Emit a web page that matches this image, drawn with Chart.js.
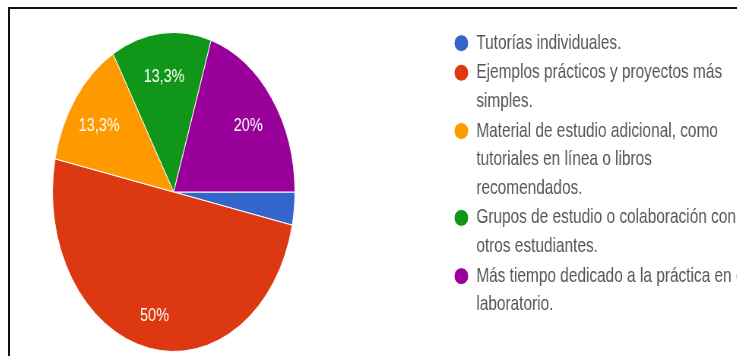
<!DOCTYPE html>
<html>
<head>
<meta charset="utf-8">
<script src="https://cdn.jsdelivr.net/npm/chart.js@4/dist/chart.umd.min.js"></script>
<style>
  html, body { margin: 0; padding: 0; background: #fff; overflow: hidden; }
  body { width: 737px; height: 356px; position: relative; }
  /* the source picture is squeezed sideways, so the chart is drawn wide and scaled */
  .wrap { position: absolute; left: -106px; top: 0; transform: scaleX(0.76); transform-origin: 0 0; }
  .frame { position: absolute; left: 8px; top: 7px; width: 740px; height: 360px;
           border-left: 2px solid #111; border-top: 2px solid #111; pointer-events: none; }
</style>
</head>
<body>
<div class="wrap"><canvas id="pie" width="1116" height="356"></canvas></div>
<div class="frame"></div>
<script>
const categories = [
  ["Tutorías individuales."],
  ["Ejemplos prácticos y proyectos más", "simples."],
  ["Material de estudio adicional, como", "tutoriales en línea o libros", "recomendados."],
  ["Grupos de estudio o colaboración con", "otros estudiantes."],
  ["Más tiempo dedicado a la práctica en el", "laboratorio."]
];
const responses = [1, 15, 4, 4, 6];
const colors = ["#3366cc", "#dc3912", "#ff9900", "#109618", "#990099"];

const total = responses.reduce((a, b) => a + b, 0);

// percentage text inside each slice, google forms style
const sliceLabels = {
    id: "sliceLabels",
    afterDatasetsDraw(chart) {
        const ctx = chart.ctx;
        const meta = chart.getDatasetMeta(0);
        ctx.save();
        ctx.font = "19px 'Liberation Sans', Arial, sans-serif";
        ctx.fillStyle = "#ffffff";
        ctx.textAlign = "center";
        ctx.textBaseline = "middle";
        meta.data.forEach((arc, i) => {
            const pct = responses[i] / total * 100;
            if (pct < 5) return;
            const {x, y, startAngle, endAngle, outerRadius} = arc.getProps(["x", "y", "startAngle", "endAngle", "outerRadius"], true);
            const mid = (startAngle + endAngle) / 2;
            const r = outerRadius * 0.76;
            const txt = (Math.round(pct * 10) / 10).toString().replace(".", ",") + "%";
            ctx.fillText(txt, x + Math.cos(mid) * r, y + Math.sin(mid) * r + 5);
        });
        ctx.restore();
    }
};

new Chart(document.getElementById("pie"), {
    type: "pie",
    data: {
        labels: categories,
        datasets: [{
            data: responses,
            backgroundColor: colors,
            borderColor: "#ffffff",
            borderWidth: 1
        }]
    },
    options: {
        responsive: false,
        animation: false,
        devicePixelRatio: 1,
        rotation: 90,
        layout: { padding: { top: 32, bottom: 4, left: 0, right: 0 } },
        plugins: {
            tooltip: { enabled: false },
            legend: {
                position: "right",
                align: "start",
                maxWidth: 380,
                labels: {
                    usePointStyle: true,
                    pointStyle: "circle",
                    pointStyleWidth: 19,
                    boxHeight: 12,
                    padding: 1,
                    color: "#555",
                    font: { family: "'Liberation Sans', Arial, sans-serif", size: 20.3, lineHeight: 1.41 }
                }
            }
        }
    },
    plugins: [sliceLabels]
});
</script>
</body>
</html>
